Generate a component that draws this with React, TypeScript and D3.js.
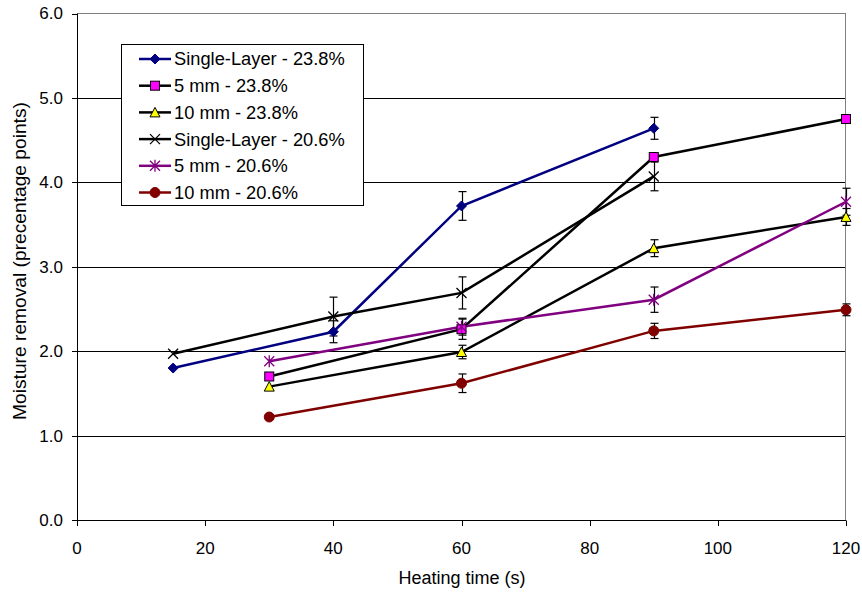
import React from "react";
import * as d3 from "d3";

const seriesNames = [
  "Single-Layer - 23.8%",
  "5 mm - 23.8%",
  "10 mm - 23.8%",
  "Single-Layer - 20.6%",
  "5 mm - 20.6%",
  "10 mm - 20.6%",
];

const slTime23 = [15, 40, 60, 90];
const slVal23 = [1.8, 2.23, 3.72, 4.64];
const slErr23 = [0, 0.13, 0.17, 0.13];

const mm5Time23 = [30, 60, 90, 120];
const mm5Val23 = [1.7, 2.26, 4.3, 4.75];
const mm5Err23 = [0, 0.12, 0, 0];

const mm10Time23 = [30, 60, 90, 120];
const mm10Val23 = [1.58, 1.99, 3.22, 3.59];
const mm10Err23 = [0, 0.08, 0.1, 0.1];

const slTime20 = [15, 40, 60, 90];
const slVal20 = [1.97, 2.41, 2.69, 4.07];
const slErr20 = [0, 0.23, 0.19, 0.17];

const mm5Time20 = [30, 60, 90, 120];
const mm5Val20 = [1.88, 2.29, 2.61, 3.77];
const mm5Err20 = [0, 0.1, 0.15, 0.16];

const mm10Time20 = [30, 60, 90, 120];
const mm10Val20 = [1.22, 1.62, 2.24, 2.49];
const mm10Err20 = [0, 0.11, 0.09, 0.07];

const xTicks = [0, 20, 40, 60, 80, 100, 120];
const yTicks = [0, 1, 2, 3, 4, 5, 6];

const lineColors = ["#000080", "#000000", "#000000", "#000000", "#800080", "#800000"];
const markerTypes = ["diamond", "square", "triangle", "x", "star", "circle"];

const seriesTimes = [slTime23, mm5Time23, mm10Time23, slTime20, mm5Time20, mm10Time20];
const seriesVals = [slVal23, mm5Val23, mm10Val23, slVal20, mm5Val20, mm10Val20];
const seriesErrs = [slErr23, mm5Err23, mm10Err23, slErr20, mm5Err20, mm10Err20];

const FONT = "'Liberation Sans', Arial, sans-serif";

function Marker({ type, cx, cy }: { type: string; cx: number; cy: number }) {
  switch (type) {
    case "diamond":
      return (
        <path
          d={`M${cx},${cy - 5} L${cx + 5},${cy} L${cx},${cy + 5} L${cx - 5},${cy} Z`}
          fill="#000080"
          stroke="#000080"
          strokeWidth={1}
        />
      );
    case "square":
      return <rect x={cx - 4.5} y={cy - 4.5} width={9} height={9} fill="#FF00FF" stroke="#000" strokeWidth={1} />;
    case "triangle":
      return (
        <path
          d={`M${cx},${cy - 5} L${cx + 5},${cy + 4.5} L${cx - 5},${cy + 4.5} Z`}
          fill="#FFFF00"
          stroke="#000"
          strokeWidth={1}
        />
      );
    case "x":
      return (
        <path
          d={`M${cx - 5},${cy - 5} L${cx + 5},${cy + 5} M${cx - 5},${cy + 5} L${cx + 5},${cy - 5}`}
          stroke="#000"
          strokeWidth={1.3}
          fill="none"
        />
      );
    case "star":
      return (
        <path
          d={`M${cx - 5},${cy - 5} L${cx + 5},${cy + 5} M${cx - 5},${cy + 5} L${cx + 5},${cy - 5} M${cx},${cy - 6} L${cx},${cy + 6}`}
          stroke="#800080"
          strokeWidth={1.3}
          fill="none"
        />
      );
    case "circle":
      return <circle cx={cx} cy={cy} r={5} fill="#800000" stroke="#800000" strokeWidth={1} />;
  }
  return null;
}

export default function App() {
  const W = 862;
  const H = 593;
  const x = d3.scaleLinear().domain([0, 120]).range([77, 846]);
  const y = d3.scaleLinear().domain([0, 6]).range([520, 13.5]);
  const line = d3
    .line<[number, number]>()
    .x((d) => x(d[0]))
    .y((d) => y(d[1]));

  const legendX = 121.5;
  const legendY = 44.5;
  const legendW = 242;
  const legendH = 161;
  const legendRow = 26.7;

  return (
    <svg
      width={W}
      height={H}
      style={{ position: "absolute", left: 0, top: 0, background: "#fff" }}
      fontFamily={FONT}
    >
      <rect x={0} y={0} width={W} height={H} fill="#fff" />
      {/* gridlines */}
      {yTicks
        .filter((t) => t > 0 && t < 6)
        .map((t) => (
          <line key={t} x1={x(0)} x2={x(120)} y1={Math.round(y(t)) + 0.5} y2={Math.round(y(t)) + 0.5} stroke="#000" strokeWidth={1} />
        ))}
      {/* plot border top/right */}
      <line x1={x(0)} x2={x(120)} y1={13.5} y2={13.5} stroke="#808080" strokeWidth={1} />
      <line x1={x(120) - 0.5} x2={x(120) - 0.5} y1={13.5} y2={520} stroke="#808080" strokeWidth={1} />
      {/* axes */}
      <line x1={77.5} x2={77.5} y1={13.5} y2={520.5} stroke="#000" strokeWidth={1} />
      <line x1={77} x2={846} y1={520.5} y2={520.5} stroke="#000" strokeWidth={1} />
      {yTicks.map((t) => (
        <g key={"yt" + t}>
          <line x1={72} x2={77.5} y1={Math.round(y(t)) + 0.5} y2={Math.round(y(t)) + 0.5} stroke="#000" />
          <text x={63} y={y(t)} dy="0.35em" textAnchor="end" fontSize={17} fill="#000">
            {t.toFixed(1)}
          </text>
        </g>
      ))}
      {xTicks.map((t) => (
        <g key={"xt" + t}>
          <line x1={Math.round(x(t)) + 0.5} x2={Math.round(x(t)) + 0.5} y1={520.5} y2={526} stroke="#000" />
          <text x={x(t)} y={548} dy="0.35em" textAnchor="middle" fontSize={17} fill="#000">
            {t}
          </text>
        </g>
      ))}
      <text x={462} y={578} dy="0.35em" textAnchor="middle" fontSize={18} fill="#000">
        Heating time (s)
      </text>
      <text
        transform={`translate(19,261) rotate(-90)`}
        dy="0.35em"
        textAnchor="middle"
        fontSize={19.2}
        fill="#000"
      >
        Moisture removal (precentage points)
      </text>

      {/* series */}
      {seriesNames.map((name, si) => {
        const pts: [number, number][] = seriesTimes[si].map((t, i) => [t, seriesVals[si][i]]);
        return (
          <g key={name}>
            <path d={line(pts) || ""} fill="none" stroke={lineColors[si]} strokeWidth={2.5} />
          </g>
        );
      })}
      {seriesNames.map((name, si) => (
        <g key={"e" + name}>
          {seriesTimes[si].map((t, i) => {
            const e = seriesErrs[si][i];
            if (!e) return null;
            const cx = Math.round(x(t)) + 0.5;
            const v = seriesVals[si][i];
            const y1 = y(v + e);
            const y2 = y(v - e);
            return (
              <g key={i} stroke="#000" strokeWidth={1.2}>
                <line x1={cx} x2={cx} y1={y1} y2={y2} />
                <line x1={cx - 4} x2={cx + 4} y1={y1} y2={y1} />
                <line x1={cx - 4} x2={cx + 4} y1={y2} y2={y2} />
              </g>
            );
          })}
        </g>
      ))}
      {seriesNames.map((name, si) => (
        <g key={"m" + name}>
          {seriesTimes[si].map((t, i) => (
            <Marker key={i} type={markerTypes[si]} cx={x(t)} cy={y(seriesVals[si][i])} />
          ))}
        </g>
      ))}

      {/* legend */}
      <rect x={legendX} y={legendY} width={legendW} height={legendH} fill="#fff" stroke="#000" strokeWidth={1} />
      {seriesNames.map((name, si) => {
        const cy = 59 + si * legendRow;
        return (
          <g key={"l" + name}>
            <line x1={139} x2={171} y1={cy} y2={cy} stroke={lineColors[si]} strokeWidth={2.5} />
            <Marker type={markerTypes[si]} cx={155} cy={cy} />
            <text x={174} y={cy} dy="0.35em" fontSize={18.3} fill="#000">
              {name}
            </text>
          </g>
        );
      })}
    </svg>
  );
}
